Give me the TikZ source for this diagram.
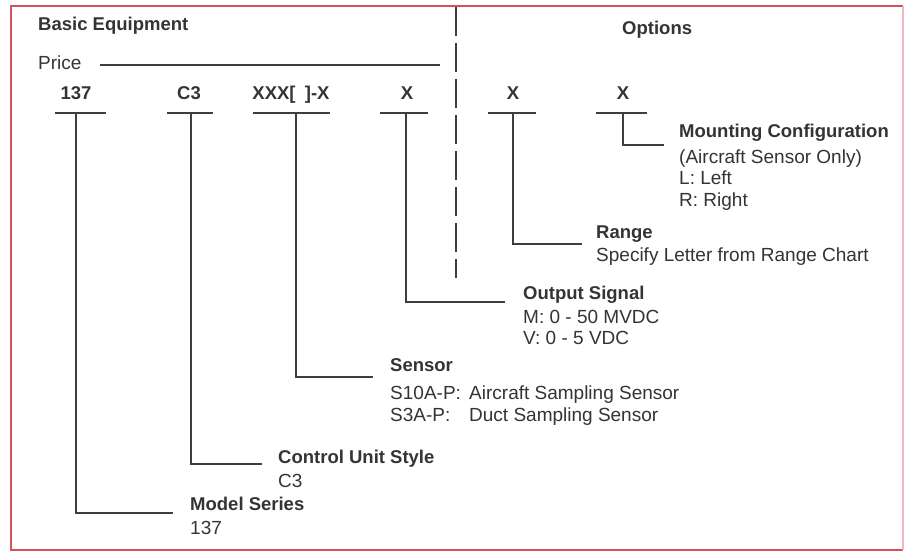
\documentclass[tikz,border=0pt]{standalone}
\usepackage{fontspec}
\setmainfont{Liberation Sans}
\definecolor{ink}{HTML}{343434}
\definecolor{lineink}{HTML}{3e3e3e}
\definecolor{frame}{HTML}{D2525C}
\definecolor{framelight}{HTML}{F0B8BE}
\begin{document}
\begin{tikzpicture}[x=1pt,y=-1pt,
  txt/.style={anchor=base west, inner sep=0pt, text=ink, font=\fontsize{19}{21}\selectfont},
  ttl/.style={txt, font=\fontsize{18.5}{21}\selectfont\bfseries},
  code/.style={anchor=base, inner sep=0pt, text=ink, font=\fontsize{18.5}{21}\selectfont\bfseries},
  ln/.style={draw=lineink, line width=1.3pt},
  dashln/.style={draw=lineink, line width=1.8pt, dash pattern=on 29pt off 7pt}]
\useasboundingbox (0,0) rectangle (905,551);
\fill[white] (0,0) rectangle (905,551);
% frame
\draw[frame, line width=1.3pt] (903,6) -- (11,6) -- (11,550) -- (903,550);
\draw[framelight, line width=1.3pt] (903,6) -- (903,550);
% headings
\node[ttl] (basic) at (38,31) {Basic Equipment};
\node[txt] (price) at (38,69.5) {Price};
\node[ttl] (options) at (622,35) {Options};
\coordinate (pl1) at (100,65);
\coordinate (pl2) at (440,65);
\draw[ln] (pl1) -- (pl2);
% divider
\coordinate (d1) at (456,7);
\coordinate (d2) at (456,278);
\draw[dashln] (d1) -- (d2);
% codes
\node[code] (c137) at (76,99.5) {137};
\node[code] (cc3) at (189,99.5) {C3};
\node[code] (cxxx) at (291,99.5) {XXX[\hspace{0.5em}]-X};
\node[code] (cx1) at (407,99.5) {X};
\node[code] (cx2) at (513,99.5) {X};
\node[code] (cx3) at (623,99.5) {X};
% bars
\draw[ln] (55,113) -- (106,113);
\draw[ln] (167,113) -- (213,113);
\draw[ln] (253,113) -- (330,113);
\draw[ln] (380,113) -- (428,113);
\draw[ln] (488,113) -- (536,113);
\draw[ln] (596,113) -- (647,113);
\coordinate (v137) at (76,113);
\coordinate (vc3) at (191,113);
\coordinate (vxxx) at (296,113);
\coordinate (vx1) at (406,113);
\coordinate (vx2) at (513,113);
\coordinate (vx3) at (623,113);
% elbow ends
\coordinate (e137) at (173,513);
\coordinate (ec3) at (262,464);
\coordinate (exxx) at (373,377);
\coordinate (ex1) at (505,302);
\coordinate (ex2) at (582,244);
\coordinate (ex3) at (664,145);
\draw[ln] (v137) |- (e137);
\draw[ln] (vc3) |- (ec3);
\draw[ln] (vxxx) |- (exxx);
\draw[ln] (vx1) |- (ex1);
\draw[ln] (vx2) |- (ex2);
\draw[ln] (vx3) |- (ex3);
% labels
\node[ttl] (mount) at (679,137.5) {Mounting Configuration};
\node[txt] (mount1) at (679,163.5) {(Aircraft Sensor Only)};
\node[txt] (mount2) at (679,184.5) {L: Left};
\node[txt] (mount3) at (679,206.5) {R: Right};
\node[ttl] (range) at (596,238.5) {Range};
\node[txt] (range1) at (596,261.5) {Specify Letter from Range Chart};
\node[ttl] (outsig) at (523,299.5) {Output Signal};
\node[txt] (outsig1) at (523,323.5) {M: 0 - 50 MVDC};
\node[txt] (outsig2) at (523,344.5) {V: 0 - 5 VDC};
\node[ttl] (sensor) at (390,371.5) {Sensor};
\node[txt] (sensor1) at (390,399.5) {S10A-P:};
\node[txt] (sensor1b) at (469,399.5) {Aircraft Sampling Sensor};
\node[txt] (sensor2) at (390,421.5) {S3A-P:};
\node[txt] (sensor2b) at (469,421.5) {Duct Sampling Sensor};
\node[ttl] (cus) at (278,463.5) {Control Unit Style};
\node[txt] (cus1) at (278,487.5) {C3};
\node[ttl] (ms) at (190,510.5) {Model Series};
\node[txt] (ms1) at (190,534.5) {137};
\end{tikzpicture}
\end{document}
